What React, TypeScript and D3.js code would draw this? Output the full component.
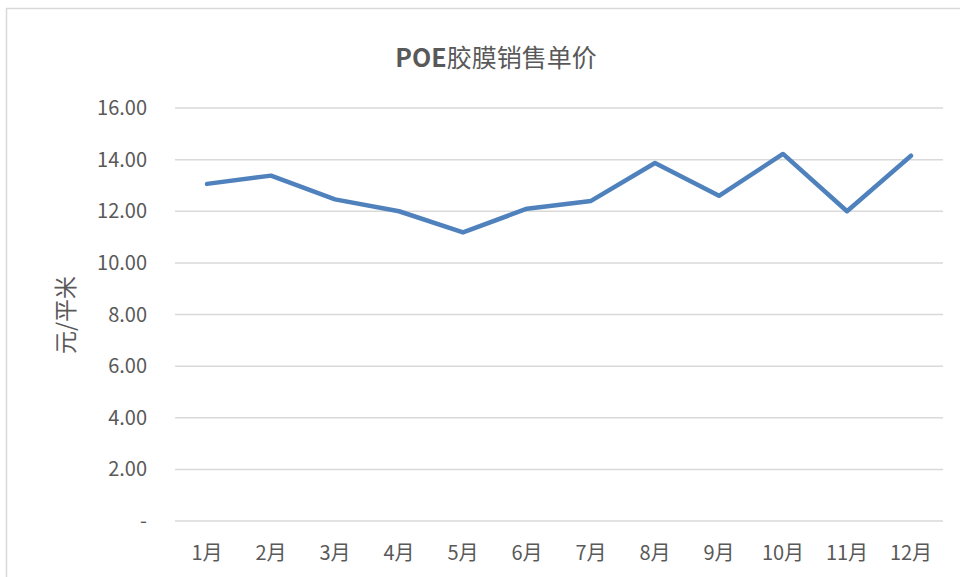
import React from 'react';
import * as d3 from 'd3';

const months = ['1月', '2月', '3月', '4月', '5月', '6月', '7月', '8月', '9月', '10月', '11月', '12月'];
const prices = [13.06, 13.38, 12.46, 12.0, 11.18, 12.1, 12.4, 13.87, 12.6, 14.22, 12.0, 14.15];
const yTicks = [0, 2, 4, 6, 8, 10, 12, 14, 16];

const width = 960;
const height = 577;
const plot = { left: 175, right: 943, top: 108, bottom: 521 };
const textColor = '#595959';
const font = '"Noto Sans CJK SC", "Noto Sans", sans-serif';

const App = () => {
  const x = d3.scaleBand<string>().domain(months).range([plot.left, plot.right]);
  const y = d3.scaleLinear().domain([0, 16]).range([plot.bottom, plot.top]);

  const line = d3.line<number>()
    .x((_, i) => (x(months[i]) as number) + x.bandwidth() / 2)
    .y(d => y(d));

  const fmt = (v: number) => (v === 0 ? '-' : v.toFixed(2));

  return (
    <svg width={width} height={height} style={{ position: 'absolute', left: 0, top: 0 }} fontFamily={font}>
      <rect x={0} y={0} width={width} height={height} fill="#fff" />
      <rect x={6.5} y={8.5} width={width} height={height} fill="none" stroke="#d9d9d9" strokeWidth={1.5} />

      <text x={496} y={67} textAnchor="middle" fontSize={25} fill={textColor}>
        <tspan fontWeight="bold">POE</tspan>
        <tspan>胶膜销售单价</tspan>
      </text>

      {yTicks.map(t => (
        <g key={t}>
          <line x1={plot.left} x2={plot.right} y1={y(t)} y2={y(t)} stroke="#d9d9d9" strokeWidth={1.5} />
          <text x={147} y={y(t)} dy="0.35em" textAnchor="end" fontSize={20} fill={textColor}>
            {fmt(t)}
          </text>
        </g>
      ))}

      {months.map(m => (
        <text key={m} x={(x(m) as number) + x.bandwidth() / 2} y={553} dy="0.35em" textAnchor="middle" fontSize={20} fill={textColor}>
          {m}
        </text>
      ))}

      <text transform="translate(66,315) rotate(-90)" textAnchor="middle" dy="0.35em" fontSize={23} fill={textColor}>
        元/平米
      </text>

      <path d={line(prices) || ''} fill="none" stroke="#4f81bd" strokeWidth={4.5} strokeLinejoin="round" strokeLinecap="round" />
    </svg>
  );
};

export default App;
